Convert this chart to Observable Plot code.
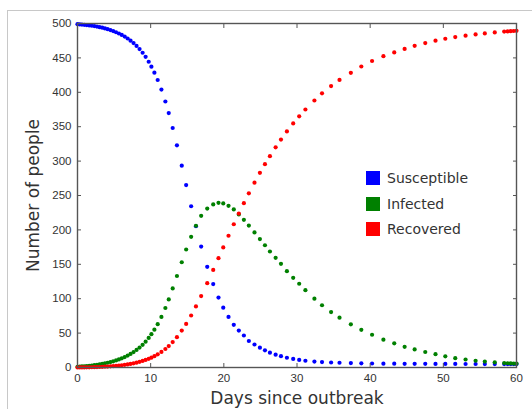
<!DOCTYPE html>
<html><head><meta charset="utf-8">
<script src="https://cdn.jsdelivr.net/npm/d3@7"></script>
<script src="https://cdn.jsdelivr.net/npm/@observablehq/plot@0.6"></script>
<style>
html,body{margin:0;padding:0;background:#fff;}
#wrap{position:relative;width:532px;height:409px;overflow:hidden;}
#border{position:absolute;left:7px;top:10px;width:600px;height:500px;border-left:1px solid #c8c8c8;border-top:1px solid #c8c8c8;}
#chart{position:absolute;left:0;top:0;}
#legend{position:absolute;left:366px;top:165px;}
.lg-swatch{height:25.7px;padding:0 !important;margin:0 !important;}
</style></head><body>
<div id="wrap"><div id="border"></div><div id="chart"></div><div id="legend"></div></div>
<script>
const days = [0, 0.30, 0.61, 0.93, 1.26, 1.60, 1.95, 2.30, 2.66, 3.02, 3.38, 3.75, 4.12, 4.50, 4.88, 5.27, 5.66, 6.05, 6.45, 6.85, 7.25, 7.66, 8.07, 8.48, 8.90, 9.31, 9.73,
  10.10, 10.51, 10.96, 11.47, 12.01, 12.47, 13.01, 13.59, 14.25, 14.85, 15.53, 16.19, 16.90, 17.73, 18.55, 19.27, 19.92, 20.64, 21.36, 22.05, 22.74,
  23.42, 24.19, 24.93, 25.62, 26.30, 27.08, 27.81, 28.62, 29.48, 30.30, 31.15, 32.38, 33.42, 34.66, 35.81, 37.36, 38.79, 40.26, 41.81, 43.29, 44.71,
  46.08, 47.53, 48.93, 50.27, 51.63, 53.04, 54.41, 55.67, 57.03, 58.32, 58.79, 59.21, 59.62, 60.00];
const susceptible = [499.0, 498.7, 498.4, 498.1, 497.7, 497.2, 496.7, 496.2, 495.5, 494.7, 493.9, 492.9, 491.7, 490.4, 489.0, 487.3, 485.5, 483.4, 481.0, 478.2, 475.1, 471.5, 467.4, 462.8, 457.5, 451.5, 444.4,
  437.2, 428.5, 417.9, 403.9, 386.6, 369.8, 348.1, 322.9, 293.4, 265.2, 234.4, 205.3, 175.7, 146.4, 121.2, 101.7, 87.0, 73.5, 62.1, 53.7, 46.5,
  38.5, 33.4, 28.8, 24.9, 21.6, 18.6, 16.4, 14.2, 12.5, 11.0, 9.8, 8.6, 7.9, 7.3, 6.9, 6.4, 6.0, 5.8, 5.6, 5.5, 5.4,
  5.35, 5.3, 5.25, 5.2, 5.15, 5.1, 5.1, 5.05, 5.0, 5.0, 5.0, 5.0, 5.0, 5.0];
const infected = [1.0, 1.25, 1.5, 1.8, 2.1, 2.5, 2.9, 3.35, 3.9, 4.5, 5.2, 6.0, 6.9, 7.9, 9.0, 10.3, 11.7, 13.3, 15.2, 17.3, 19.7, 22.4, 25.5, 29.0, 33.0, 37.6, 43.0,
  48.5, 55.0, 63.0, 73.5, 86.5, 99.0, 115.0, 133.0, 153.0, 171.5, 190.0, 206.0, 220.5, 231.0, 237.0, 239.4, 238.5, 235.0, 229.7, 222.5, 214.6,
  206.3, 196.4, 186.7, 177.7, 168.6, 159.4, 150.7, 140.0, 130.4, 121.7, 112.4, 100.1, 90.5, 80.6, 72.4, 62.8, 54.7, 47.6, 40.5, 35.2, 30.1,
  26.3, 22.5, 19.3, 16.3, 13.6, 11.6, 9.8, 8.6, 7.5, 6.5, 6.2, 5.9, 5.7, 5.5];
const recovered = [0, 0.04, 0.08, 0.13, 0.19, 0.27, 0.37, 0.48, 0.61, 0.76, 0.93, 1.14, 1.38, 1.66, 1.98, 2.36, 2.79, 3.27, 3.84, 4.49, 5.23, 6.10, 7.08, 8.19, 9.50, 10.94, 12.64,
  14.33, 16.45, 19.1, 22.6, 26.9, 31.2, 36.9, 44.1, 53.6, 63.3, 75.6, 88.7, 103.8, 122.6, 141.8, 158.9, 174.5, 191.5, 208.2, 223.8, 238.9,
  253.2, 268.7, 282.9, 295.5, 307.2, 320.0, 331.3, 343.1, 354.7, 365.1, 375.0, 388.1, 398.5, 409.0, 418.0, 428.3, 437.5, 445.5, 452.5, 458.0, 463.0,
  467.5, 471.5, 475.0, 477.8, 480.2, 482.3, 484.1, 485.6, 487.0, 488.2, 488.5, 488.8, 489.1, 489.4];
const seriesNames = ["Susceptible", "Infected", "Recovered"];
const seriesColors = ["#0000ff", "#008000", "#ff0000"];
const xTicks = [0, 10, 20, 30, 40, 50, 60];
const yTicks = [0, 50, 100, 150, 200, 250, 300, 350, 400, 450, 500];
const xLabel = "Days since outbreak";
const yLabel = "Number of people";

const seriesValues = [susceptible, infected, recovered];
const rows = [];
seriesNames.forEach((name, k) => {
  days.forEach((d, i) => rows.push({day: d, people: seriesValues[k][i], group: name}));
});

const tickFont = {fontSize: 11.5, fontFamily: "Liberation Sans, Arial, sans-serif"};
const labelFont = {fontSize: 17, fontFamily: "DejaVu Sans, sans-serif"};

const chart = Plot.plot({
  width: 532,
  height: 409,
  marginLeft: 77,
  marginRight: 16,
  marginTop: 23,
  marginBottom: 42,
  style: {background: "transparent", color: "#333"},
  x: {domain: [0, 60]},
  y: {domain: [0, 500]},
  color: {domain: seriesNames, range: seriesColors},
  marks: [
    Plot.dot(rows, {x: "day", y: "people", fill: "group", r: 2.1, stroke: null}),
    Plot.frame({stroke: "#555", strokeWidth: 1.4}),
    Plot.axisX({ticks: xTicks, tickSize: -4, tickPadding: 10, label: null, stroke: "#555", ...tickFont}),
    Plot.axisX({anchor: "top", ticks: xTicks, tickSize: -4, tickFormat: () => "", label: null, stroke: "#555"}),
    Plot.axisY({ticks: yTicks, tickSize: -4, tickPadding: 10, label: null, stroke: "#555", ...tickFont}),
    Plot.axisY({anchor: "right", ticks: yTicks, tickSize: -4, tickFormat: () => "", label: null, stroke: "#555"}),
    Plot.axisX({ticks: [], tickSize: 0, label: xLabel, labelAnchor: "center", labelOffset: 36, labelArrow: "none", dx: -10, ...labelFont}),
    Plot.axisY({ticks: [], tickSize: 0, label: yLabel, labelAnchor: "center", labelOffset: 51, labelArrow: "none", ...labelFont})
  ]
});
document.getElementById("chart").appendChild(chart);

const legend = Plot.legend({
  color: {domain: seriesNames, range: seriesColors},
  legend: "swatches",
  columns: 1,
  swatchSize: 14,
  className: "lg",
  style: {fontSize: "14px", fontFamily: "DejaVu Sans, sans-serif", color: "#333"}
});
document.getElementById("legend").appendChild(legend);
</script>
</body></html>
